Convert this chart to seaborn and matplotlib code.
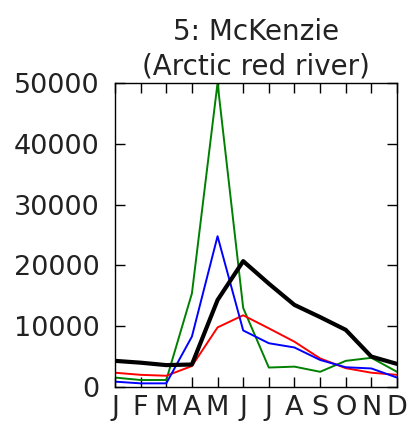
import matplotlib
matplotlib.use("Agg")
import matplotlib.pyplot as plt
import seaborn as sns
import pandas as pd

months = ["J", "F", "M", "A", "M", "J", "J", "A", "S", "O", "N", "D"]
black_vals = [4300, 4000, 3600, 3700, 14300, 20700, 17000, 13500, 11500, 9400, 5000, 3800]
red_vals = [2350, 2000, 1850, 3450, 9800, 11800, 9650, 7450, 4700, 3100, 2350, 2000]
blue_vals = [880, 600, 600, 8300, 24800, 9300, 7200, 6500, 4450, 3250, 3050, 1550]
green_vals = [1550, 1150, 1150, 15400, 50000, 13000, 3200, 3350, 2500, 4300, 4800, 2500]
yticks = [0, 10000, 20000, 30000, 40000, 50000]

sns.set_style("ticks")
plt.rcParams["font.family"] = ["DejaVu Sans"]

fig = plt.figure(figsize=(4.07, 4.23), dpi=100)
ax = fig.add_axes([0.2826, 0.0851, 0.6928, 0.7187])

idx = list(range(len(months)))
series = [
    (green_vals, "green", 1.4),
    (red_vals, "red", 1.4),
    (blue_vals, "blue", 1.4),
    (black_vals, "black", 3.0),
]
for vals, col, lw in series:
    df = pd.DataFrame({"m": idx, "v": vals})
    sns.lineplot(data=df, x="m", y="v", color=col, linewidth=lw, ax=ax)

ax.set_xlim(0, 11)
ax.set_ylim(0, 50000)
ax.set_xticks(idx)
ax.set_xticklabels(months)
ax.set_yticks(yticks)
ax.set_yticklabels([str(t) for t in yticks])
ax.set_xlabel("")
ax.set_ylabel("")
ax.tick_params(direction="in", length=7, width=1, top=True, right=True,
               labelsize=19.5, colors="black", labelcolor="#222222")
ax.tick_params(axis="y", pad=11)
ax.tick_params(axis="x", pad=6)
for s in ax.spines.values():
    s.set_visible(True)
    s.set_color("black")
    s.set_linewidth(1)
ax.set_title("5: McKenzie\n(Arctic red river)", fontsize=20, pad=6,
             linespacing=1.3, color="#222222")

fig.savefig("out.png", dpi=100)
